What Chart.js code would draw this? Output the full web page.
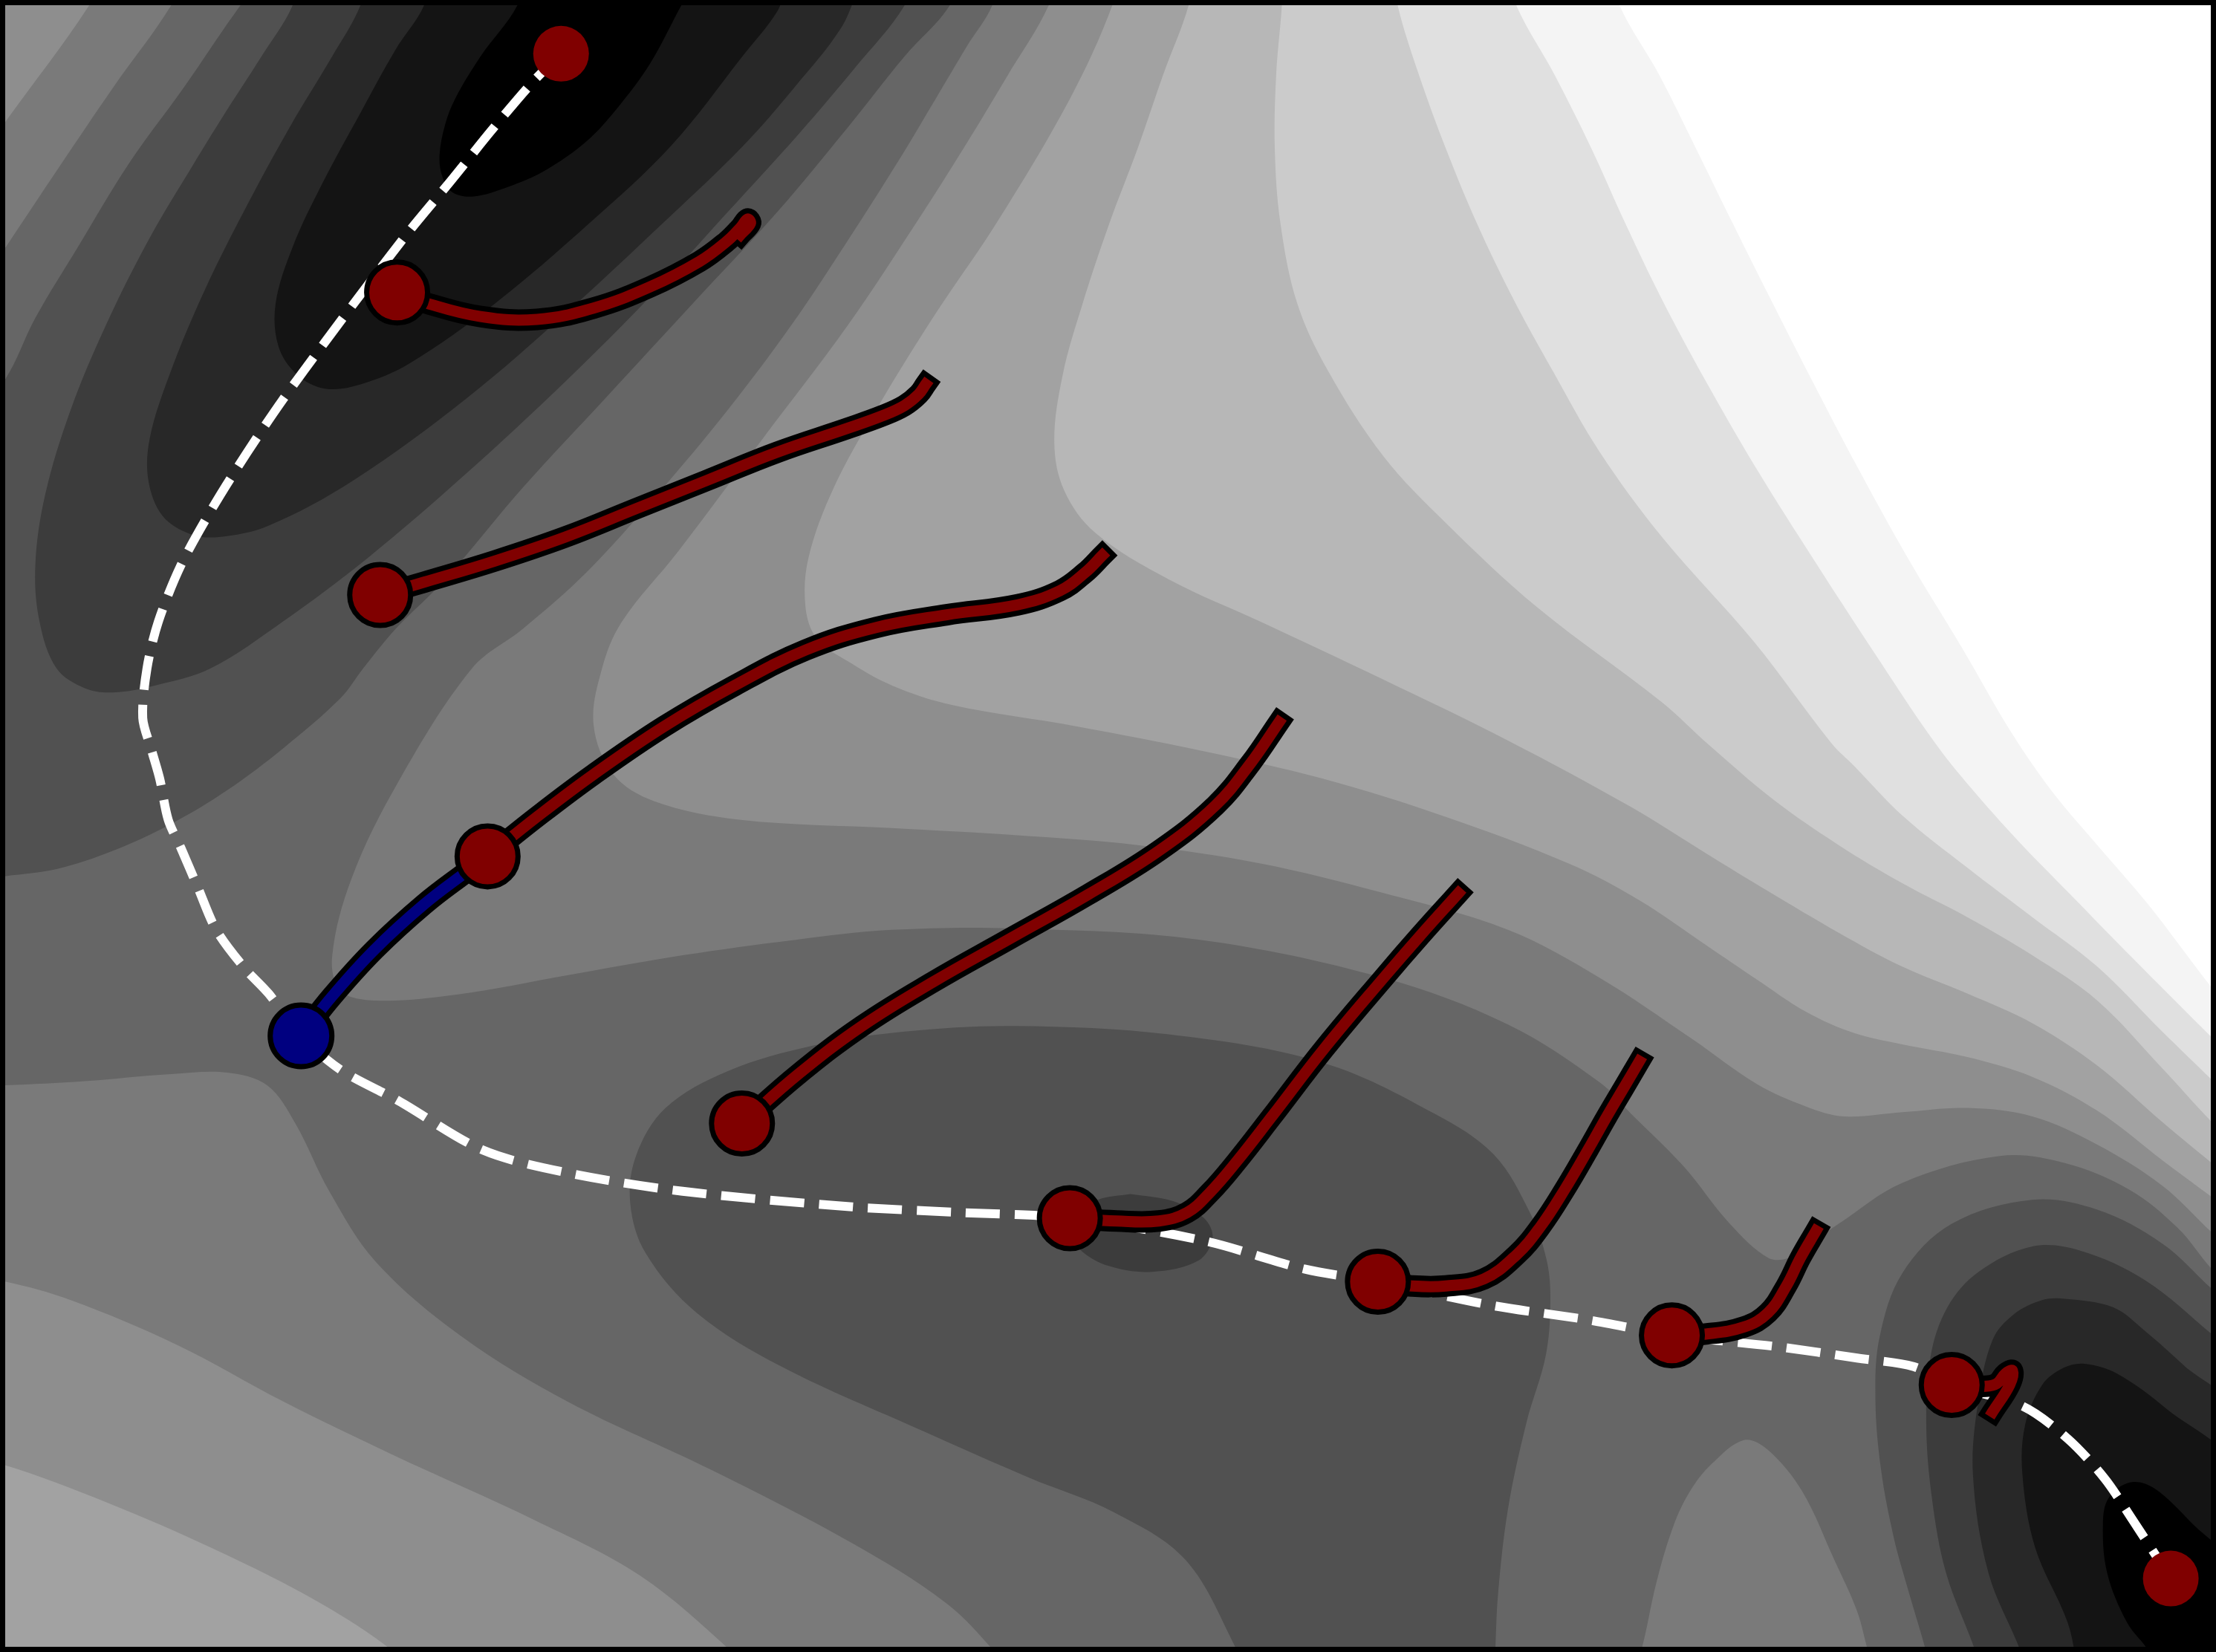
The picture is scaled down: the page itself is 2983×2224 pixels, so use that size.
<!DOCTYPE html>
<html>
<head>
<meta charset="utf-8">
<script src="https://cdn.jsdelivr.net/npm/chart.js@4.4.1/dist/chart.umd.min.js"></script>
<style>
html,body{margin:0;padding:0;background:#ffffff;}
#wrap{width:2983px;height:2224px;position:relative;}
</style>
</head>
<body>
<div id="wrap"><canvas id="c" width="2983" height="2224"></canvas></div>
<script>
// ---------- contour band grey values (level 0 = deepest, 13 = highest) ----------
const levelGrays = [0, 20, 40, 60, 81, 102, 122, 142, 162, 183, 203, 224, 244, 255];

// ---------- domain ----------
const xRange = [0, 1568];
const yRange = [0, 1169];

// ---------- background level ----------
const backgroundLevel = 5;
const backgroundRegion = [[-10,-10],[1580,-10],[1580,1180],[-10,1180]];

// ---------- regions at or above a level ----------
const above6TopLeft = [[-10,-10],[124,-10],[121,4],[80,62],[42,118],[4,175],[-10,196]];
const above6Main = [[702,-10],[702,4],[684,33],[662,70],[635,115],[600,170],[560,230],[515,290],[465,350],[415,405],[370,445],[334,473],[282,553],[249,621],[235,677],[241,701],[266,708],[322,704],[402,690],[483,676],[563,665],[631,658],[718,657],[849,665],[979,692],[1067,725],[1132,766],[1154,788],[1191,825],[1224,866],[1251,890],[1266,890],[1285,877],[1301,866],[1346,837],[1415,818],[1461,823],[1507,842],[1541,869],[1565,898],[1580,912],[1580,-10]];
const above6LowerLeft = [[-10,768],[4,768],[60,765],[121,760],[161,759],[189,768],[209,795],[233,843],[266,893],[327,946],[402,992],[503,1040],[603,1092],[669,1134],[704,1169],[710,1180],[-10,1180]];
const above6Tongue = [[1155,1180],[1161,1169],[1172,1120],[1184,1080],[1196,1055],[1211,1036],[1234,1019],[1251,1026],[1275,1055],[1298,1104],[1314,1140],[1322,1169],[1326,1180]];

const above7TopLeft = [[-10,-10],[66,-10],[63,4],[4,86],[-10,106]];
const above7Main = [[742,-10],[742,4],[712,55],[683,103],[650,155],[600,230],[540,310],[480,390],[440,440],[426,473],[420,513],[434,548],[463,567],[523,580],[631,586],[718,591],[805,598],[892,611],[979,632],[1067,658],[1132,692],[1197,735],[1243,767],[1278,783],[1305,790],[1346,787],[1392,784],[1438,790],[1484,810],[1530,839],[1565,872],[1580,885],[1580,-10]];
const above7LowerLeft = [[-10,907],[4,907],[50,920],[126,952],[201,992],[277,1029],[377,1075],[453,1115],[518,1169],[525,1180],[-10,1180]];

const above8Main = [[787,-10],[787,4],[757,70],[705,158],[660,225],[620,290],[590,345],[572,395],[570,430],[578,452],[600,468],[631,485],[674,499],[762,514],[849,531],[936,551],[1023,578],[1110,611],[1160,637],[1209,670],[1243,693],[1278,716],[1312,731],[1346,739],[1392,748],[1438,762],[1484,786],[1530,821],[1565,847],[1580,858],[1580,-10]];
const above8LowerLeft = [[-10,1037],[4,1037],[75,1063],[151,1096],[226,1134],[279,1169],[285,1180],[-10,1180]];

const above9 = [[841,-10],[841,4],[823,53],[805,105],[785,158],[766,215],[752,265],[746,313],[753,347],[775,377],[827,410],[892,440],[979,481],[1067,524],[1154,571],[1209,605],[1250,630],[1301,660],[1346,684],[1392,703],[1438,724],[1484,754],[1530,794],[1565,823],[1580,835],[1580,-10]];
const above10 = [[907,-10],[907,4],[903,53],[902,105],[906,158],[918,215],[940,263],[979,323],[1023,370],[1088,430],[1176,497],[1209,527],[1255,566],[1301,598],[1346,625],[1392,649],[1438,676],[1484,708],[1530,756],[1565,794],[1580,808],[1580,-10]];
const above11 = [[989,-10],[989,4],[1004,53],[1023,105],[1045,158],[1070,210],[1099,263],[1132,320],[1176,380],[1241,454],[1296,526],[1312,542],[1346,577],[1392,614],[1438,649],[1484,684],[1530,730],[1565,764],[1580,778],[1580,-10]];
const above12 = [[1073,-10],[1073,4],[1100,53],[1126,105],[1150,158],[1176,212],[1206,268],[1243,332],[1284,397],[1325,460],[1368,524],[1395,558],[1428,595],[1465,633],[1507,676],[1565,734],[1580,748],[1580,-10]];
const above13 = [[1146,-10],[1146,4],[1174,53],[1200,105],[1226,158],[1252,210],[1280,265],[1314,330],[1350,395],[1388,458],[1423,518],[1452,560],[1484,598],[1520,640],[1565,699],[1580,716],[1580,-10]];

// ---------- regions at or below a level ----------
const below4TopLeft = [[170,-10],[672,-10],[672,4],[640,40],[600,90],[550,150],[490,215],[430,280],[370,345],[315,410],[280,445],[257,473],[241,494],[201,529],[161,559],[121,583],[80,602],[40,615],[4,620],[-10,622],[-10,280],[4,268],[25,225],[55,175],[91,116],[130,62],[158,21],[170,4]];
const below4Middle = [[1058,1180],[880,1180],[876,1169],[839,1104],[788,1070],[729,1046],[654,1013],[553,967],[493,929],[457,887],[446,852],[450,818],[471,784],[515,758],[575,740],[640,730],[718,726],[827,732],[936,752],[1015,788],[1057,817],[1083,859],[1094,890],[1097,917],[1094,958],[1080,1007],[1067,1068],[1060,1128],[1058,1169]];
const below4BottomRight = [[1365,1180],[1363,1169],[1349,1121],[1340,1088],[1331,1040],[1327,990],[1330,946],[1346,901],[1381,866],[1438,849],[1484,856],[1530,880],[1565,912],[1580,925],[1580,1180]];

const below3TopLeft = [[207,-10],[207,4],[185,40],[158,82],[137,116],[105,170],[75,230],[50,290],[32,350],[25,400],[28,440],[40,473],[60,487],[80,490],[110,485],[149,473],[200,440],[260,395],[330,335],[400,270],[460,210],[515,150],[565,95],[605,48],[640,4],[640,-10]];
const below3Middle = [[800,845],[830,850],[852,862],[858,876],[848,892],[815,900],[785,896],[765,885],[757,872],[762,860],[777,849],[800,845]];
const below3BottomRight = [[1400,1180],[1398,1169],[1377,1113],[1367,1060],[1363,1008],[1366,960],[1378,925],[1400,900],[1438,882],[1472,885],[1518,906],[1565,944],[1580,957],[1580,1180]];

const below2TopLeft = [[255,-10],[255,4],[235,40],[205,90],[175,145],[145,205],[120,265],[106,310],[105,340],[115,365],[135,378],[155,380],[190,372],[250,340],[330,282],[400,222],[469,158],[526,103],[562,62],[595,20],[608,-10]];
const below2BottomRight = [[1432,1180],[1430,1169],[1407,1113],[1396,1043],[1400,990],[1410,948],[1425,930],[1445,920],[1461,919],[1495,925],[1518,942],[1545,966],[1580,1000],[1580,1180]];

const below1TopLeft = [[300,-10],[300,4],[280,35],[255,80],[228,130],[207,175],[195,215],[197,245],[210,265],[230,275],[255,272],[290,257],[350,215],[417,158],[475,103],[526,39],[550,8],[556,-10]];
const below1BottomRight = [[1470,1180],[1463,1148],[1440,1095],[1431,1043],[1433,1008],[1445,980],[1460,968],[1475,965],[1498,972],[1533,997],[1580,1040],[1580,1180]];

const below0TopLeft = [[366,-10],[366,4],[340,40],[322,70],[315,88],[311,110],[313,125],[320,136],[335,139],[360,132],[385,121],[415,100],[438,75],[460,45],[482,4],[490,-10]];
const below0BottomRight = [[1525,1180],[1521,1169],[1505,1148],[1491,1113],[1488,1078],[1492,1060],[1507,1049],[1524,1053],[1551,1078],[1580,1110],[1580,1180]];

// ---------- path (white dashed) ----------
const pathPoints = [[397,38],[377,58],[348,92],[319,128],[290,163],[260,202],[230,242],[200,283],[175,320],[150,360],[128,400],[112,440],[104,473],[101,508],[107,530],[113,551],[119,580],[128,600],[140,628],[153,658],[173,685],[190,703],[213,733],[241,757],[282,779],[342,814],[402,830],[483,843],[603,854],[680,858],[757,862],[852,878],[923,898],[975,907],[1057,924],[1124,934],[1184,945],[1258,953],[1314,961],[1354,967],[1381,980],[1431,995],[1463,1018],[1489,1046],[1508,1074],[1536,1117]];

// ---------- trajectories ----------
const traj1 = [[281,207],[300,214],[340,224],[380,226],[420,218],[460,203],[495,185],[514,171],[524,161],[529,155],[531,158],[524,166]];
const traj2 = [[269,421],[300,412],[350,397],[400,380],[450,360],[500,340],[550,320],[600,303],[625,294],[640,287],[650,279],[655,272]];
const traj3 = [[345,606],[380,578],[420,548],[470,514],[520,485],[570,460],[620,444],[670,435],[720,428],[750,418],[768,405],[780,393]];
const traj4 = [[525,795],[565,760],[610,726],[660,695],[715,664],[770,633],[820,602],[860,570],[885,540],[905,511]];
const traj5 = [[757,862],[790,864],[820,864],[840,858],[856,844],[875,822],[900,790],[937,742],[979,692],[1005,662],[1032,632]];
const traj6 = [[975,907],[999,910],[1023,910],[1050,905],[1073,888],[1090,868],[1107,842],[1124,813],[1137,790],[1150,768],[1160,751]];
const traj7 = [[1183,945],[1207,944],[1234,939],[1251,929],[1264,910],[1274,890],[1285,871]];
const traj8 = [[1381,980],[1405,981],[1413,979],[1419,972],[1424,970],[1422,980],[1410,999]];
const saddleTraj = [[213,733],[235,705],[265,672],[300,640],[330,617],[345,606]];

// ---------- markers ----------
const endImages = [[397,38],[1536,1117]];
const innerImages = [[281,207],[269,421],[345,606],[525,795],[757,862],[975,907],[1183,945],[1381,980]];
const saddleImage = [[213,733]];

// ---------- helpers ----------
const pts = a => a.map(p => ({x: p[0], y: p[1]}));
const grey = k => `rgb(${levelGrays[k]},${levelGrays[k]},${levelGrays[k]})`;
const layers = [];
function region(arr, level) {
  layers.push({
    type: 'line', data: pts(arr), fill: 'shape', backgroundColor: grey(level),
    borderWidth: 0, pointRadius: 0, tension: 0.35, capBezierPoints: false
  });
}
function line(arr, color, width, opts) {
  layers.push(Object.assign({
    type: 'line', data: pts(arr), fill: false, borderColor: color, borderWidth: width,
    pointRadius: 0, tension: 0.4, capBezierPoints: false, borderCapStyle: 'square', borderJoinStyle: 'round'
  }, opts || {}));
}
function markers(arr, color, r, bw) {
  layers.push({
    type: 'line', data: pts(arr), showLine: false, pointRadius: r, pointHoverRadius: r,
    pointBackgroundColor: color, pointBorderColor: '#000000', pointBorderWidth: bw, pointHoverBorderWidth: bw
  });
}

region(backgroundRegion, backgroundLevel);
region(above6TopLeft, 6); region(above6Main, 6); region(above6LowerLeft, 6); region(above6Tongue, 6);
region(above7TopLeft, 7); region(above7Main, 7); region(above7LowerLeft, 7);
region(above8Main, 8); region(above8LowerLeft, 8);
region(above9, 9); region(above10, 10); region(above11, 11); region(above12, 12); region(above13, 13);
region(below4TopLeft, 4); region(below4Middle, 4); region(below4BottomRight, 4);
region(below3TopLeft, 3); region(below3Middle, 3); region(below3BottomRight, 3);
region(below2TopLeft, 2); region(below2BottomRight, 2);
region(below1TopLeft, 1); region(below1BottomRight, 1);
region(below0TopLeft, 0); region(below0BottomRight, 0);

line(pathPoints, '#ffffff', 12, {borderDash: [46, 20], borderCapStyle: 'butt', tension: 0.3});

[traj1, traj2, traj3, traj4, traj5, traj6, traj7, traj8].forEach(t => {
  line(t, '#000000', 29);
  line(t, '#800000', 15);
});
line(saddleTraj, '#000000', 29);
line(saddleTraj, '#000080', 15);

markers(endImages, '#800000', 37.5, 0);
markers(innerImages, '#800000', 41, 7);
markers(saddleImage, '#000080', 41.5, 7);

// frame
line([[0,0],[1568,0],[1568,1169],[0,1169],[0,0]], '#000000', 14, {tension: 0, borderJoinStyle: 'miter'});

layers.forEach((d, i) => { d.order = layers.length - i; });

new Chart(document.getElementById('c'), {
  type: 'line',
  data: {datasets: layers},
  options: {
    responsive: false, animation: false, devicePixelRatio: 1, events: [],
    layout: {padding: 0, autoPadding: false},
    plugins: {legend: {display: false}, tooltip: {enabled: false}},
    scales: {
      x: {type: 'linear', min: xRange[0], max: xRange[1], display: false},
      y: {type: 'linear', min: yRange[0], max: yRange[1], reverse: true, display: false}
    }
  }
});
</script>
</body>
</html>
